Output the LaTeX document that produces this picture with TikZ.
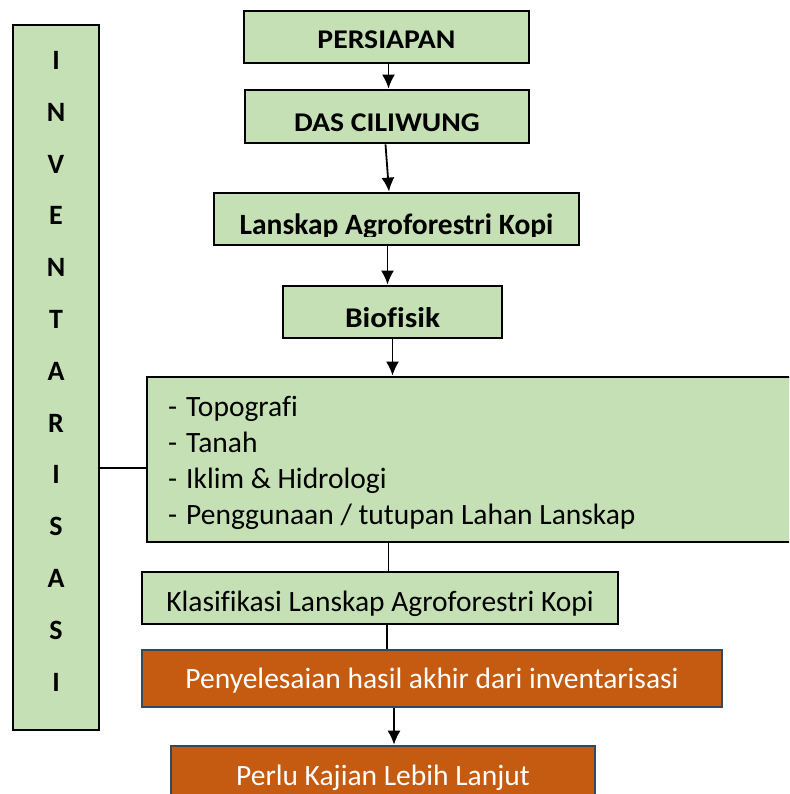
\documentclass[tikz,border=0pt]{standalone}
\usepackage{fontspec}
\setmainfont{Carlito}[Ligatures=NoCommon]
\newfontfamily\lebar[FakeStretch=1.1,Ligatures=NoCommon]{Carlito}
\usetikzlibrary{arrows.meta}
\definecolor{hijau}{HTML}{C5E0B4}
\definecolor{oranye}{HTML}{C55A11}
\definecolor{abu}{HTML}{34495E}
\tikzset{>={Latex[length=14pt,width=13pt]}}
\tikzset{
  kotak/.style={draw=black,line width=2.8pt,fill=hijau,inner sep=0pt},
  kotakoranye/.style={draw=abu,line width=2.6pt,fill=oranye,inner sep=0pt,text=white},
  panah/.style={line width=1.8pt},
  huruf/.style={font=\fontsize{28}{28}\selectfont\bfseries,anchor=base,inner sep=0pt},
  biasa/.style={font=\fontsize{29.5}{34}\selectfont},
  tebal/.style={font=\fontsize{27}{30}\selectfont\lebar\bfseries},
}

\begin{document}
\begin{tikzpicture}[x=1pt,y=-1pt]
  \useasboundingbox (0,0) rectangle (789,794);
  \clip (0,0) rectangle (789,794);
  \node[kotak,minimum width=86pt,minimum height=705pt] (inv) at (56,377.5) {};
  \foreach \h [count=\i] in {I,N,V,E,N,T,A,R,I,S,A,S,I}
    \node[huruf] (h\i) at (56,{69.5+51.8*(\i-1)}) {\h};
  \node[kotak,tebal,minimum width=285pt,text height=38pt,text depth=14pt]
    (persiapan) at (386.5,37) {PERSIAPAN};
  \node[kotak,tebal,minimum width=284pt,text height=41.7pt,text depth=11.3pt]
    (das) at (387,116.5) {DAS CILIWUNG};
  \node[kotak,minimum width=365pt,minimum height=52pt,
    path picture={
      \clip (path picture bounding box.north west) rectangle
        ([yshift=9pt]path picture bounding box.south east);
      \node[anchor=base,inner sep=0pt,font=\fontsize{29.5}{34}\selectfont\bfseries]
        (lanskapteks) at ([yshift=-15pt]path picture bounding box.center)
        {Lanskap Agroforestri Kopi};
    }] (lanskap) at (396.5,219) {};
  \node[kotak,font=\fontsize{28.5}{30}\selectfont\lebar\bfseries,minimum width=219pt,
    text height=41pt,text depth=11pt] (biofisik) at (392.5,312) {Biofisik};
  \node[kotak,minimum width=683pt,minimum height=165pt] (rincian) at (488.5,459.5) {};
  \node[anchor=base west,inner sep=0pt,font=\fontsize{29.5}{35.8}\selectfont] (daftar)
    at (168,416.7) {\begin{tabular}[t]{@{}l@{\hspace{9pt}}l@{}}
      - & Topografi\\
      - & Tanah\\
      - & Iklim \& Hidrologi\\
      - & Penggunaan / tutupan Lahan Lanskap
    \end{tabular}};
  \node[kotak,biasa,minimum width=476pt,text height=39pt,text depth=13pt]
    (klas) at (380,598) {Klasifikasi Lanskap Agroforestri Kopi};
  \node[kotakoranye,biasa,minimum width=580pt,text height=38pt,text depth=19pt]
    (peny) at (432,678.5) {Penyelesaian hasil akhir dari inventarisasi};
  \node[kotakoranye,biasa,minimum width=424pt,text height=39pt,text depth=21pt]
    (perlu) at (383,776) {Perlu Kajian Lebih Lanjut};

  \draw[panah,->] ([xshift=2pt]persiapan.south) -- ([xshift=2pt]persiapan.south |- das.north);
  \draw[panah,->] ([xshift=-1.5pt]das.south) -- ([xshift=-7.5pt]lanskap.north);
  \draw[panah,->] ([xshift=-9pt]lanskap.south) -- ([xshift=-9pt]lanskap.south |- biofisik.north);
  \draw[panah,->] (biofisik.south) -- (biofisik.south |- rincian.north);
  \draw[panah] ([yshift=-8.5pt]rincian.west) -- ([yshift=-8.5pt]rincian.west -| inv.east);
  \draw[panah] ([xshift=8.5pt]klas.north) -- ([xshift=8.5pt]klas.north |- rincian.south);
  \draw[panah] ([xshift=7pt]klas.south) -- ([xshift=7pt]klas.south |- peny.north);
  \draw[panah,->] ([xshift=11pt]perlu.north |- peny.south) -- ([xshift=11pt]perlu.north);
\end{tikzpicture}
\end{document}
